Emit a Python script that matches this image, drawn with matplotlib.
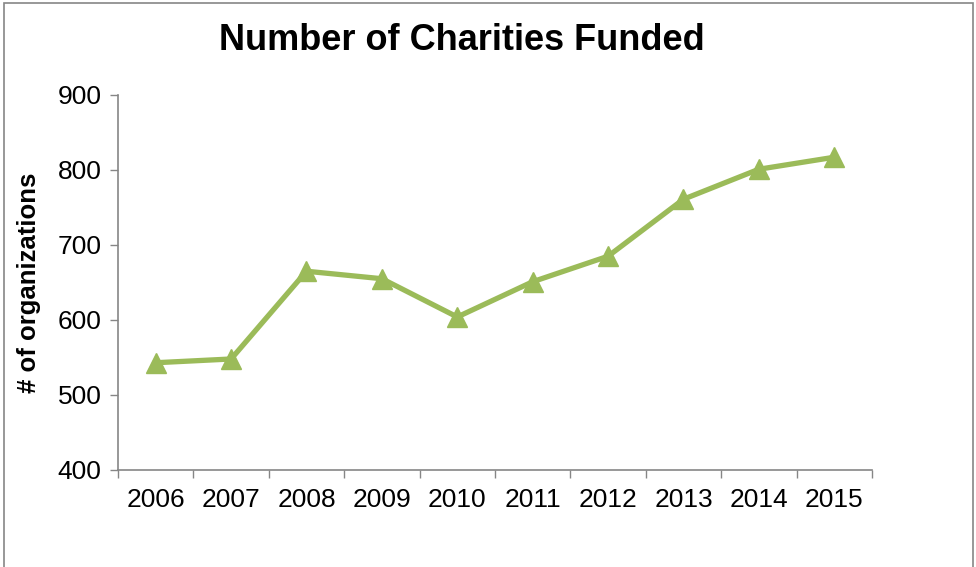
import matplotlib.pyplot as plt
from matplotlib.patches import Rectangle
import numpy as np

years = ['2006', '2007', '2008', '2009', '2010', '2011', '2012', '2013', '2014', '2015']
charities = [543, 548, 665, 655, 604, 651, 685, 761, 801, 817]

plt.rcParams['font.family'] = ['Liberation Sans', 'DejaVu Sans']

fig = plt.figure(figsize=(9.76, 5.67), dpi=100)
ax = fig.add_axes([0.1209, 0.1711, 0.7725, 0.6614])

x = np.arange(len(years))
ax.plot(x, charities, color='#9BBB59', linewidth=3.8, marker='^',
        markersize=14, markeredgecolor='#9BBB59', markerfacecolor='#9BBB59')

ax.set_xlim(-0.5, len(years) - 0.5)
ax.set_ylim(400, 900)
ax.set_yticks(range(400, 901, 100))

# category axis: ticks between categories, labels centred
ax.set_xticks(np.arange(-0.5, len(years), 1.0))
ax.set_xticklabels([])
ax.set_xticks(x, minor=True)
ax.set_xticklabels(years, minor=True)
ax.tick_params(axis='x', which='minor', length=0, pad=13, labelsize=19)
ax.tick_params(axis='x', which='major', length=6, width=1, color='#868686')
ax.tick_params(axis='y', length=6, width=1, color='#868686', labelsize=19, pad=6)

for s in ['top', 'right']:
    ax.spines[s].set_visible(False)
for s in ['left', 'bottom']:
    ax.spines[s].set_color('#868686')
    ax.spines[s].set_linewidth(1.2)

ax.set_ylabel('# of organizations', fontsize=18.5, fontweight='bold')
ax.yaxis.set_label_coords(-0.102, 0.5)

fig.text(0.473, 0.929, 'Number of Charities Funded', ha='center', va='center',
         fontsize=26, fontweight='bold')

# outer chart border
fig.patches.append(Rectangle((0.004, -0.01), 0.993, 1.005, transform=fig.transFigure,
                             fill=False, edgecolor='#868686', linewidth=1.2))

fig.savefig('out.png', dpi=100)
